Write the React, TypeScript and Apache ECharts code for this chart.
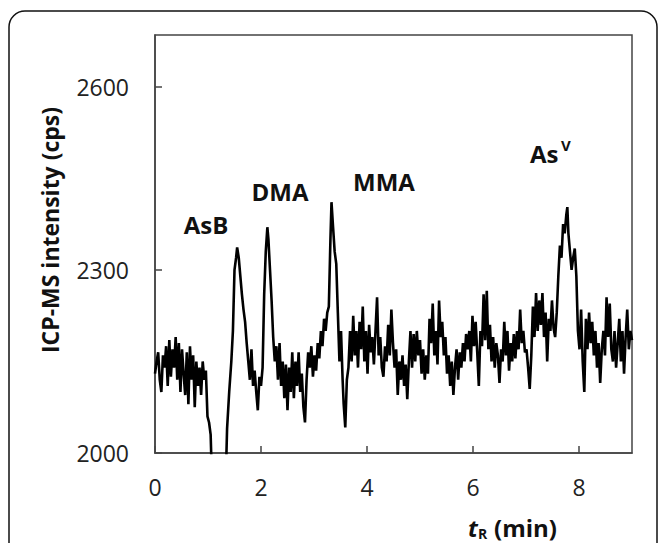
import React, { useEffect, useRef } from "react";
import * as echarts from "echarts";

const times: number[] = [
  0.0, 0.03, 0.06, 0.09, 0.12, 0.15, 0.18, 0.21, 0.24, 0.27, 0.3, 0.33, 0.36, 0.39, 0.42, 0.45, 0.48, 0.51, 0.54, 0.57,
  0.6, 0.63, 0.66, 0.69, 0.72, 0.75, 0.78, 0.81, 0.84, 0.87, 0.9, 0.93, 0.96,
  0.99, 1.02, 1.05, 1.08, 1.33, 1.36, 1.4, 1.44, 1.47, 1.5, 1.53, 1.55, 1.58, 1.61, 1.64, 1.67, 1.7, 1.73, 1.76, 1.79,
  1.82, 1.85, 1.88, 1.91, 1.94, 1.97, 2.0, 2.03, 2.06, 2.09, 2.12,
  2.14, 2.17, 2.2, 2.23, 2.26, 2.29, 2.32, 2.35, 2.38, 2.41, 2.44, 2.47, 2.5, 2.53, 2.56, 2.59, 2.62, 2.65, 2.68, 2.71,
  2.74, 2.77, 2.8, 2.83, 2.86, 2.89, 2.92, 2.95, 2.98, 3.01, 3.04, 3.07, 3.1, 3.13, 3.16, 3.19, 3.22, 3.25, 3.28, 3.31,
  3.33, 3.36, 3.39, 3.42, 3.45, 3.48, 3.51, 3.54, 3.56, 3.59,
  3.62, 3.65, 3.68, 3.71, 3.74, 3.77, 3.8, 3.83, 3.86, 3.89, 3.92, 3.95, 3.98, 4.01, 4.04, 4.07, 4.1, 4.13, 4.16, 4.19,
  4.22, 4.25, 4.28, 4.31, 4.34, 4.37, 4.4, 4.43, 4.46, 4.49, 4.52, 4.55, 4.58, 4.61, 4.64, 4.67, 4.7, 4.73, 4.76, 4.79,
  4.82, 4.85, 4.88, 4.91, 4.94, 4.97, 5.0, 5.03, 5.06, 5.09, 5.12, 5.15, 5.18, 5.21, 5.24, 5.27, 5.3, 5.33, 5.36, 5.39,
  5.42, 5.45, 5.48, 5.51, 5.54, 5.57, 5.6, 5.63, 5.66, 5.69, 5.72, 5.75, 5.78, 5.81, 5.84, 5.87, 5.9, 5.93, 5.96, 5.99,
  6.02, 6.05, 6.08, 6.11, 6.14, 6.17, 6.2, 6.23, 6.26, 6.29, 6.32, 6.35, 6.38, 6.41, 6.44, 6.47, 6.5, 6.53, 6.56, 6.59,
  6.62, 6.65, 6.68, 6.71, 6.74, 6.77, 6.8, 6.83, 6.86, 6.89, 6.92, 6.95, 6.98, 7.01, 7.04, 7.07, 7.1, 7.13, 7.16, 7.19,
  7.22, 7.25, 7.28, 7.31, 7.34, 7.37, 7.4, 7.43, 7.46, 7.49, 7.52, 7.55, 7.58, 7.61, 7.64, 7.67, 7.7, 7.73, 7.76, 7.78,
  7.8, 7.83, 7.86, 7.89, 7.92, 7.95, 7.98, 8.01, 8.04, 8.07, 8.1, 8.13, 8.16, 8.19, 8.22, 8.25, 8.28, 8.31, 8.34, 8.37,
  8.4, 8.43, 8.46, 8.49, 8.52, 8.55, 8.58, 8.61, 8.64, 8.67, 8.7, 8.73, 8.76, 8.79, 8.82, 8.85, 8.88, 8.91, 8.94, 8.97, 9.0,
];

const intensity: number[] = [
  2130, 2150, 2165, 2120, 2100, 2160, 2140, 2175, 2110, 2185, 2125, 2170, 2140, 2190, 2120, 2180, 2100, 2170, 2130, 2095,
  2165, 2080, 2175, 2120, 2160, 2075, 2150, 2110, 2140, 2095, 2150, 2120, 2135,
  2060, 2050, 2030, 1940, 1940, 2040, 2100, 2150, 2200, 2300, 2320, 2337, 2320, 2290, 2260, 2235, 2215, 2180, 2150, 2120,
  2170, 2110, 2135, 2100, 2070, 2125, 2110, 2140, 2260, 2330, 2370,
  2350, 2300, 2250, 2190, 2150, 2175, 2120, 2180, 2110, 2150, 2090, 2145, 2070, 2140, 2100, 2165, 2090, 2150, 2110, 2165,
  2100, 2130, 2075, 2050, 2120, 2165, 2140, 2175, 2125, 2160, 2135, 2180, 2155, 2200, 2175, 2220, 2200, 2230, 2240, 2350,
  2411, 2370, 2330, 2310, 2230, 2150, 2200, 2120, 2080, 2042,
  2120, 2140, 2200, 2150, 2225, 2160, 2200, 2140, 2215, 2170, 2240, 2150, 2200, 2130, 2210, 2165, 2190, 2145, 2200, 2255,
  2160, 2190, 2140, 2125, 2175, 2150, 2210, 2160, 2235, 2180, 2140, 2170, 2095, 2150, 2120, 2160, 2110, 2145, 2088, 2150,
  2200, 2140, 2195, 2150, 2200, 2160, 2185, 2130, 2170, 2120, 2160, 2130, 2220, 2180, 2245, 2160, 2200, 2145, 2250, 2190,
  2215, 2160, 2190, 2130, 2160, 2110, 2150, 2095, 2140, 2170, 2120, 2165, 2140, 2180, 2150, 2195, 2170, 2200, 2150, 2225,
  2175, 2215, 2165, 2110, 2200, 2175, 2260, 2185, 2266, 2170, 2210, 2150, 2190, 2140, 2180, 2160, 2115, 2170, 2150, 2215,
  2160, 2200, 2135, 2180, 2150, 2195, 2155, 2200, 2170, 2235, 2180, 2200, 2165, 2170, 2140, 2105, 2160, 2240, 2190, 2262,
  2200, 2250, 2210, 2262, 2190, 2230, 2150, 2220, 2200, 2250, 2205, 2190, 2230, 2290, 2340, 2320, 2375, 2360, 2390, 2403,
  2360, 2330, 2300, 2320, 2335, 2290, 2200, 2170, 2235, 2150, 2100, 2220, 2170, 2230, 2180, 2215, 2160, 2200, 2140, 2180,
  2115, 2170, 2200, 2160, 2255, 2190, 2245, 2170, 2150, 2200, 2140, 2180, 2220, 2150, 2200, 2130, 2190, 2235, 2170, 2200, 2185,
];

const xTickValues = [0, 2, 4, 6, 8];
const yTickValues = [2000, 2300, 2600];
const peakLabels = ["AsB", "DMA", "MMA"];

export default function App() {
  const ref = useRef<HTMLDivElement>(null);
  useEffect(() => {
    document.body.style.margin = "0";
    const chart = echarts.init(ref.current!, undefined, { renderer: "svg" });
    const data = times.map((t, i) => [t, intensity[i]]);
    const font = "'Open Sans', 'DejaVu Sans', sans-serif";
    const bold = { fontFamily: font, fontWeight: "bold" as const, fontSize: 24, fill: "#111" };
    chart.setOption({
      animation: false,
      backgroundColor: "#ffffff",
      grid: { left: 155, right: 30, top: 35, bottom: 90, show: true, borderColor: "#444", borderWidth: 1.5 },
      xAxis: {
        type: "value",
        min: 0,
        max: 9,
        axisLine: { show: true, lineStyle: { color: "#444", width: 1.5 } },
        axisTick: { show: true, inside: true, length: 7, customValues: xTickValues, lineStyle: { color: "#444", width: 1.5 } },
        axisLabel: {
          customValues: xTickValues,
          formatter: (v: number) => String(v),
          margin: 22,
          fontSize: 23,
          color: "#222",
          fontFamily: font,
        },
        splitLine: { show: false },
      },
      yAxis: {
        type: "value",
        min: 2000,
        max: 2685,
        axisLine: { show: true, lineStyle: { color: "#444", width: 1.5 } },
        axisTick: { show: true, inside: true, length: 7, customValues: yTickValues, lineStyle: { color: "#444", width: 1.5 } },
        axisLabel: {
          customValues: yTickValues,
          formatter: (v: number) => String(v),
          margin: 26,
          fontSize: 23,
          color: "#222",
          fontFamily: font,
        },
        splitLine: { show: false },
      },
      series: [
        {
          type: "line",
          data,
          showSymbol: false,
          clip: true,
          lineStyle: { color: "#000", width: 2.6 },
        },
      ],
      graphic: [
        {
          type: "rect",
          shape: { x: 9, y: 11, width: 648, height: 620, r: 16 },
          style: { fill: "none", stroke: "#111", lineWidth: 1.5 },
          silent: true,
        },
        {
          type: "text",
          x: 50,
          y: 230,
          rotation: Math.PI / 2,
          style: { ...bold, fontSize: 23, text: "ICP-MS intensity (cps)", align: "center", verticalAlign: "middle" },
        },
        { type: "text", x: 206, y: 224, style: { ...bold, text: peakLabels[0], align: "center", verticalAlign: "middle" } },
        { type: "text", x: 280, y: 191, style: { ...bold, text: peakLabels[1], align: "center", verticalAlign: "middle" } },
        { type: "text", x: 384, y: 181, style: { ...bold, text: peakLabels[2], align: "center", verticalAlign: "middle" } },
        { type: "text", x: 530, y: 153, style: { ...bold, text: "As", align: "left", verticalAlign: "middle" } },
        { type: "text", x: 561, y: 145, style: { ...bold, fontSize: 15, text: "V", align: "left", verticalAlign: "middle" } },
        { type: "text", x: 468, y: 527, style: { ...bold, fontStyle: "italic", text: "t", align: "left", verticalAlign: "middle" } },
        { type: "text", x: 478, y: 533, style: { ...bold, fontSize: 14, text: "R", align: "left", verticalAlign: "middle" } },
        { type: "text", x: 494, y: 527, style: { ...bold, text: "(min)", align: "left", verticalAlign: "middle" } },
      ],
    });
    return () => chart.dispose();
  }, []);
  return <div ref={ref} style={{ width: 662, height: 543 }} />;
}
